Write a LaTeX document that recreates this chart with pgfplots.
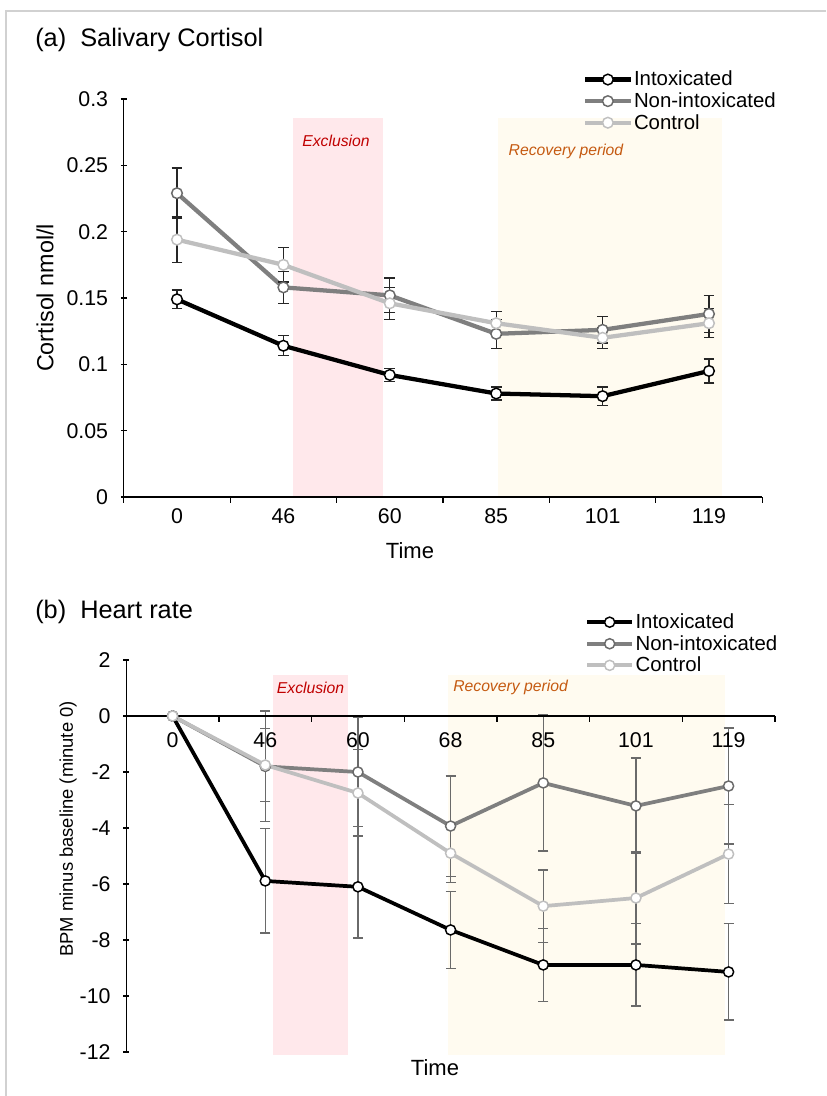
\documentclass[border=0pt]{standalone}
\usepackage{pgfplots}
\pgfplotsset{compat=1.18}
\usepackage{fontspec}
\setmainfont{Liberation Sans}

\definecolor{cNon}{HTML}{7F7F7F}
\definecolor{cNonMk}{HTML}{6A6A6A}
\definecolor{cCtl}{HTML}{BFBFBF}
\definecolor{cExcl}{HTML}{FFE8EB}
\definecolor{cRec}{HTML}{FFFBF0}
\definecolor{tExcl}{HTML}{C00000}
\definecolor{tRec}{HTML}{C55A11}
\definecolor{cErrA}{HTML}{262626}
\definecolor{cErrB}{HTML}{6A6A6A}

\newcommand\fs[1]{\fontsize{#1}{#1}\selectfont}

% cortisol (a): x index, mean, error
\pgfplotstableread{
x y e
0 0.149 0.007
1 0.114 0.0075
2 0.092 0.005
3 0.078 0.005
4 0.076 0.007
5 0.095 0.009
}\aIntox
\pgfplotstableread{
x y e
0 0.229 0.019
1 0.158 0.012
2 0.152 0.013
3 0.123 0.011
4 0.126 0.010
5 0.138 0.014
}\aNon
\pgfplotstableread{
x y e
0 0.194 0.017
1 0.175 0.013
2 0.146 0.012
3 0.131 0.009
4 0.120 0.008
5 0.131 0.011
}\aCtl

% heart rate (b)
\pgfplotstableread{
x y e
0 0 0
1 -5.89 1.86
2 -6.10 1.83
3 -7.64 1.38
4 -8.89 1.30
5 -8.89 1.47
6 -9.14 1.72
}\bIntox
\pgfplotstableread{
x y e
0 0 0
1 -1.80 1.98
2 -2.00 1.96
3 -3.93 1.79
4 -2.39 2.43
5 -3.21 1.71
6 -2.50 2.07
}\bNon
\pgfplotstableread{
x y e
0 0 0
1 -1.75 1.30
2 -2.75 1.55
3 -4.90 1.06
4 -6.79 1.29
5 -6.50 1.64
6 -4.93 1.77
}\bCtl

\pgfplotsset{
  panel/.style={
    scale only axis, anchor=south west, clip=false, axis on top,
    tick style={line width=0.9pt, black},
    major tick length=4.5pt, tick align=outside,
    xtick style={draw=none},
    tick label style={font=\fs{16}},
    yticklabel style={xshift=-6pt},
    legend cell align=left,
    legend style={draw=none, fill=none, anchor=north west, font=\fs{15.3},
      inner sep=0pt, row sep=1.6pt, nodes={inner sep=1pt}},
    legend image code/.code={
      \draw[mark repeat=2, mark phase=2, ##1] plot coordinates {(0pt,0pt) (17pt,0pt) (34pt,0pt)};
    },
  },
}

\begin{document}
\begin{tikzpicture}
\useasboundingbox (0,0) rectangle (619.5pt,-822pt);
\draw[line width=1.2pt, black!18] (4.5pt,-822pt) -- (4.5pt,-8.25pt) -- (619.5pt,-8.25pt);

\node[anchor=west, inner sep=0pt, font=\fs{19}] at (26.25pt,-30pt) {(a)\ \ Salivary Cortisol};
\node[anchor=west, inner sep=0pt, font=\fs{19}] at (26.25pt,-459pt) {(b)\ \ Heart rate};
\node[rotate=90, font=\fs{17.5}] at (33.75pt,-223.5pt) {Cortisol nmol/l};
\node[rotate=90, font=\fs{13.8}] at (51pt,-621.75pt) {BPM minus baseline (minute 0)};
\node[font=\fs{16.5}] at (307.5pt,-413.25pt) {Time};
\node[font=\fs{16.5}] at (326.25pt,-801pt) {Time};

% ---------- (a) ----------
\begin{axis}[panel,
  at={(92.85pt,-372.75pt)}, width=478.8pt, height=298.5pt,
  xmin=-0.5, xmax=5.5, ymin=0, ymax=0.3,
  axis x line=bottom, axis y line=left,
  axis line style={-, line width=0.9pt},
  xtick={0,...,5}, xticklabels={0,46,60,85,101,119},
  xticklabel style={yshift=-3pt},
  ytick={0,0.05,0.1,0.15,0.2,0.25,0.3},
  yticklabels={0,0.05,0.1,0.15,0.2,0.25,0.3},
  legend style={at={(0.719,1.074)}},
  error bars/error bar style={line width=1pt, cErrA},
  error bars/error mark options={rotate=90, line width=1pt, mark size=4pt, cErrA},
]
\addplot[draw=none, fill=cExcl, forget plot] coordinates {(1.09,0) (1.09,0.2857) (1.936,0.2857) (1.936,0)} -- cycle;
\addplot[draw=none, fill=cRec, forget plot] coordinates {(3.017,0) (3.017,0.2857) (5.122,0.2857) (5.122,0)} -- cycle;
\node[font=\itshape\fs{11.8}, text=tExcl] at (axis cs:1.494,0.2683) {Exclusion};
\node[font=\itshape\fs{11.8}, text=tRec] at (axis cs:3.656,0.2608) {Recovery period};
\pgfplotsinvokeforeach{-0.5,0.5,1.5,2.5,3.5,4.5,5.5}{
  \draw[line width=0.9pt] (axis cs:#1,0) -- ++(0pt,-4.5pt);
}

\addplot[black, line width=3.2pt, mark=*, mark size=4pt,
  mark options={fill=white, draw=black, line width=1.1pt},
  error bars/.cd, y dir=both, y explicit]
  table[x=x, y=y, y error=e] {\aIntox};
\addlegendentry{Intoxicated}
\addplot[cNon, line width=3.2pt, mark=*, mark size=4pt,
  mark options={fill=white, draw=cNonMk, line width=1.1pt},
  error bars/.cd, y dir=both, y explicit]
  table[x=x, y=y, y error=e] {\aNon};
\addlegendentry{Non-intoxicated}
\addplot[cCtl, line width=3.2pt, mark=*, mark size=4pt,
  mark options={fill=white, draw=cCtl, line width=1.1pt},
  error bars/.cd, y dir=both, y explicit]
  table[x=x, y=y, y error=e] {\aCtl};
\addlegendentry{Control}
\end{axis}

% ---------- (b) ----------
\begin{axis}[panel,
  at={(94.7pt,-789pt)}, width=486.5pt, height=294pt,
  xmin=-0.5, xmax=6.5, ymin=-12, ymax=2,
  axis x line=middle, axis y line=left,
  axis line style={-, line width=0.9pt},
  xtick={0,...,6}, xticklabels={0,46,60,68,85,101,119},
  xticklabel style={yshift=-6.5pt},
  ytick={-12,-10,-8,-6,-4,-2,0,2},
  yticklabels={-12,-10,-8,-6,-4,-2,0,2},
  legend style={at={(0.707,1.122)}},
  error bars/error bar style={line width=0.9pt, cErrB},
  error bars/error mark options={rotate=90, line width=0.9pt, mark size=3.75pt, cErrB},
]
\addplot[draw=none, fill=cExcl, forget plot] coordinates {(1.079,-12.1) (1.079,1.46) (1.888,1.46) (1.888,-12.1)} -- cycle;
\addplot[draw=none, fill=cRec, forget plot] coordinates {(2.967,-12.1) (2.967,1.46) (5.957,1.46) (5.957,-12.1)} -- cycle;
\node[font=\itshape\fs{11.8}, text=tExcl] at (axis cs:1.489,1.0) {Exclusion};
\node[font=\itshape\fs{11.8}, text=tRec] at (axis cs:3.647,1.036) {Recovery period};
\pgfplotsinvokeforeach{-0.5,0.5,1.5,2.5,3.5,4.5,5.5,6.5}{
  \draw[line width=0.9pt] (axis cs:#1,0) -- ++(0pt,-4.5pt);
}
\draw[line width=0.9pt] (axis cs:-0.5,0) -- (axis cs:6.5,0);

\addplot[black, line width=2.8pt, mark=*, mark size=3.8pt,
  mark options={fill=white, draw=black, line width=1.1pt},
  error bars/.cd, y dir=both, y explicit]
  table[x=x, y=y, y error=e] {\bIntox};
\addlegendentry{Intoxicated}
\addplot[cNon, line width=2.8pt, mark=*, mark size=3.8pt,
  mark options={fill=white, draw=cNonMk, line width=1.1pt},
  error bars/.cd, y dir=both, y explicit]
  table[x=x, y=y, y error=e] {\bNon};
\addlegendentry{Non-intoxicated}
\addplot[cCtl, line width=2.8pt, mark=*, mark size=3.8pt,
  mark options={fill=white, draw=cCtl, line width=1.1pt},
  error bars/.cd, y dir=both, y explicit]
  table[x=x, y=y, y error=e] {\bCtl};
\addlegendentry{Control}
\end{axis}
\end{tikzpicture}
\end{document}
